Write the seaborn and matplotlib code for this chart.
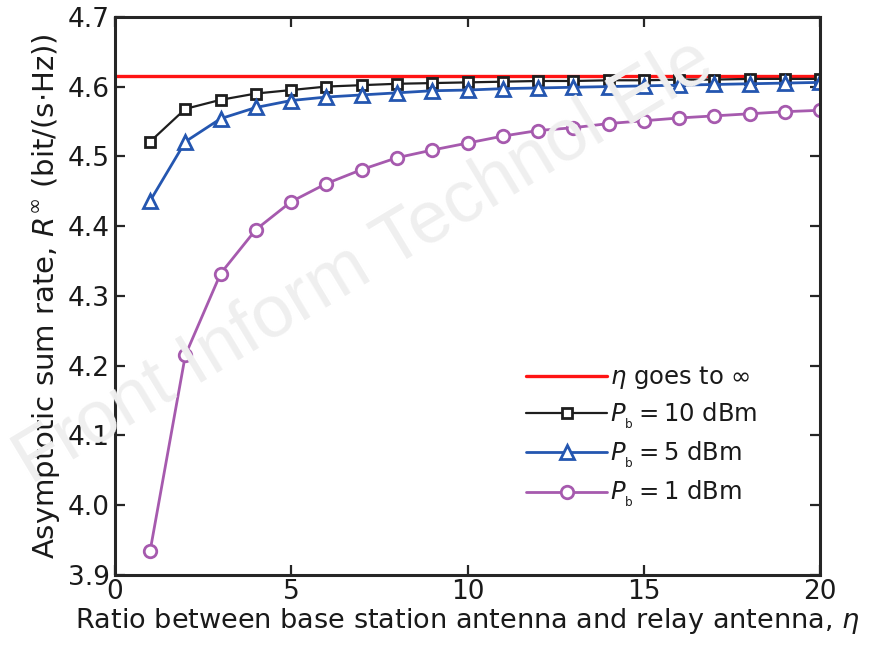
import numpy as np
import pandas as pd
import matplotlib
matplotlib.use("Agg")
import matplotlib.pyplot as plt
import seaborn as sns

eta = list(range(1, 21))
limit_rate = 4.615
p10 = [4.521, 4.568, 4.581, 4.590, 4.595, 4.600, 4.602, 4.604, 4.605, 4.606,
       4.607, 4.608, 4.608, 4.609, 4.609, 4.610, 4.610, 4.611, 4.611, 4.611]
p5 = [4.436, 4.521, 4.554, 4.570, 4.580, 4.585, 4.588, 4.591, 4.594, 4.595,
      4.597, 4.598, 4.599, 4.600, 4.601, 4.602, 4.603, 4.604, 4.605, 4.606]
p1 = [3.934, 4.215, 4.332, 4.395, 4.435, 4.461, 4.481, 4.498, 4.509, 4.519,
      4.529, 4.537, 4.541, 4.547, 4.551, 4.555, 4.558, 4.561, 4.564, 4.566]
labels = [r"$\eta$ goes to $\infty$",
          r"$P_{_{\mathrm{b}}} = 10$ dBm",
          r"$P_{_{\mathrm{b}}} = 5$ dBm",
          r"$P_{_{\mathrm{b}}} = 1$ dBm"]
xticks = [0, 5, 10, 15, 20]
yticks = [3.9, 4.0, 4.1, 4.2, 4.3, 4.4, 4.5, 4.6, 4.7]

sns.set_style("ticks")
plt.rcParams['font.family'] = ['DejaVu Sans']
plt.rcParams['mathtext.fontset'] = 'dejavusans'

fig = plt.figure(figsize=(8.83, 6.46), dpi=100)
ax = fig.add_axes([0.130, 0.110, 0.799, 0.864])

# watermark
fig.text(0.035, 0.25, "Front Inform Technol Ele", fontsize=53, color="#efefef",
         family="Liberation Sans", rotation=31, rotation_mode="anchor",
         ha="left", va="baseline", zorder=0)
ax.set_facecolor("none")

df = pd.DataFrame({"eta": eta * 3,
                   "rate": p10 + p5 + p1,
                   "series": [labels[1]] * 20 + [labels[2]] * 20 + [labels[3]] * 20})

sns.lineplot(x=[0, 20], y=[limit_rate, limit_rate], ax=ax, color="#ff1414",
             linewidth=2.4, label=labels[0])
styles = {labels[1]: ("#1e1e1e", "s", 7.5, 1.6), labels[2]: ("#2456b0", "^", 9.5, 2.0),
          labels[3]: ("#a65aae", "o", 9, 2.0)}
for lab in labels[1:]:
    c, m, ms, lw = styles[lab]
    sub = df[df["series"] == lab]
    sns.lineplot(data=sub, x="eta", y="rate", ax=ax, color=c, linewidth=lw,
                 marker=m, markersize=ms, markerfacecolor="white",
                 markeredgecolor=c, markeredgewidth=2.0, label=lab)

ax.set_xlim(0, 20)
ax.set_ylim(3.9, 4.7)
ax.set_xticks(xticks)
ax.set_yticks(yticks)
ax.set_yticklabels([f"{v:.1f}" for v in yticks])
ax.tick_params(direction="in", length=7, width=1.6, labelsize=19, top=True, right=True,
               labelcolor="#1a1a1a")
ax.tick_params(axis="x", pad=3)
for s in ax.spines.values():
    s.set_linewidth(2.2)
    s.set_visible(True)
ax.set_xlabel(r"Ratio between base station antenna and relay antenna, $\eta$", fontsize=19.5,
              labelpad=1, color="#1a1a1a")
ax.set_ylabel(r"Asymptotic sum rate, $R^{\infty}$ (bit/(s$\cdot$Hz))", fontsize=21,
              labelpad=4, color="#1a1a1a")

leg = ax.legend(loc="lower right", bbox_to_anchor=(0.925, 0.10), frameon=False, fontsize=17.5,
                handlelength=3.3, labelspacing=0.38, handletextpad=0.15, borderaxespad=0)
for t in leg.get_texts():
    t.set_color("#1a1a1a")

fig.savefig("out.png", dpi=100)
